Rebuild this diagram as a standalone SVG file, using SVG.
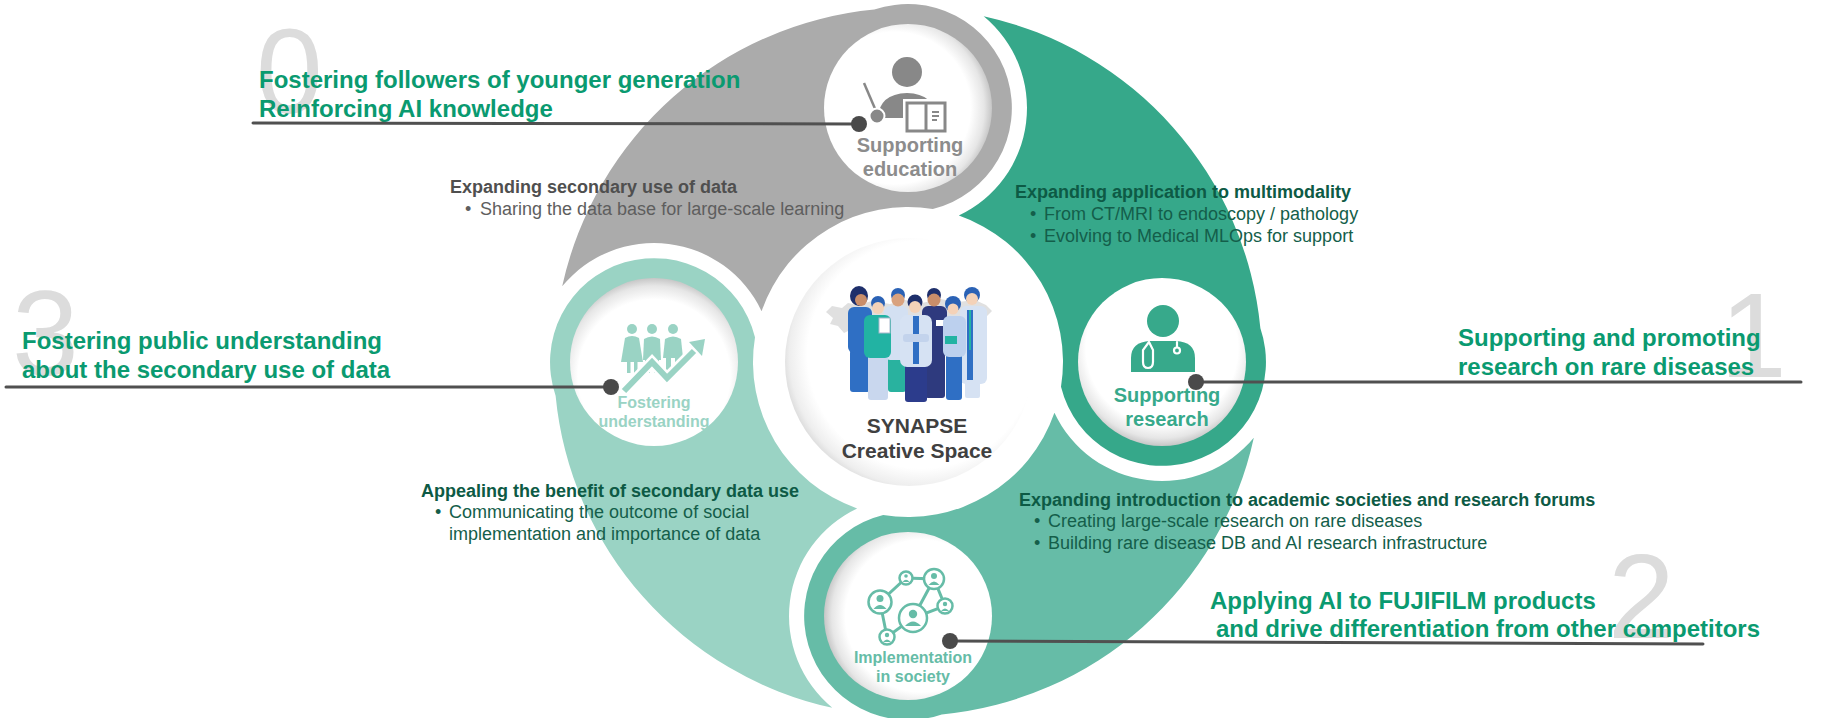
<svg xmlns="http://www.w3.org/2000/svg" width="1822" height="718" viewBox="0 0 1822 718">
  <defs>
    <style>
      text { font-family: "Liberation Sans", Arial, Helvetica, sans-serif; }
      .num { font-size: 120px; fill: #DCDCDC; }
      .head { font-size: 24px; font-weight: bold; fill: #0A9A70; }
      .db { font-size: 18px; font-weight: bold; }
      .dr { font-size: 18px; }
      .gray-b { fill: #4F4F4F; }
      .gray-r { fill: #5E5E5E; }
      .dg-b { fill: #0D5A45; }
      .dg-r { fill: #145E4A; }
      .lbl { font-weight: bold; text-anchor: middle; }
      .conn line { stroke: #505050; stroke-width: 3; stroke-linecap: round; }
      .conn circle { fill: #4A4A4A; }
      .disc { stroke: none; }
    </style>
    <!-- disc shading: each disc darkens toward one rim -->
    <radialGradient id="shadeRight" cx="0.42" cy="0.5" r="0.58">
      <stop offset="0.78" stop-color="#FFFFFF"/>
      <stop offset="0.92" stop-color="#E6E6E6"/>
      <stop offset="1" stop-color="#C6C6C6"/>
    </radialGradient>
    <radialGradient id="shadeBottom" cx="0.5" cy="0.42" r="0.58">
      <stop offset="0.78" stop-color="#FFFFFF"/>
      <stop offset="0.92" stop-color="#E6E6E6"/>
      <stop offset="1" stop-color="#C6C6C6"/>
    </radialGradient>
    <radialGradient id="shadeLeft" cx="0.58" cy="0.5" r="0.58">
      <stop offset="0.78" stop-color="#FFFFFF"/>
      <stop offset="0.92" stop-color="#E6E6E6"/>
      <stop offset="1" stop-color="#C6C6C6"/>
    </radialGradient>
    <radialGradient id="shadeTop" cx="0.5" cy="0.58" r="0.58">
      <stop offset="0.78" stop-color="#FFFFFF"/>
      <stop offset="0.92" stop-color="#E6E6E6"/>
      <stop offset="1" stop-color="#C6C6C6"/>
    </radialGradient>
    <radialGradient id="shadeCenter" cx="0.55" cy="0.47" r="0.56">
      <stop offset="0.82" stop-color="#FFFFFF"/>
      <stop offset="0.95" stop-color="#EEEEEE"/>
      <stop offset="1" stop-color="#DDDDDD"/>
    </radialGradient>
  </defs>

  <rect width="1822" height="718" fill="#FFFFFF"/>

  <!-- large step numbers behind the headings -->
  <g id="step-numbers">
    <text class="num" x="256" y="113">0</text>
    <text class="num" x="1720" y="377">1</text>
    <text class="num" x="1608" y="638">2</text>
    <text class="num" x="12" y="375">3</text>
  </g>

  <!-- Supporting education (gray petal, top) -->
  <g id="node-education">
    <path fill="#ABABAB" d="M 562.19 286.30 A 354 354 0 0 1 874.28 9.61 A 104 104 0 1 1 932.82 209.00 A 155 155 0 0 0 761.58 311.15 A 119 119 0 0 0 562.19 286.30 Z"/>
    <circle class="disc" cx="908" cy="108" r="84" fill="url(#shadeRight)"/>
    <g fill="#888888">
      <circle cx="907" cy="72" r="15"/>
      <path d="M 878 118 Q 879 94 907 93 Q 935 94 936 118 Z"/>
      <line x1="864" y1="83" x2="876" y2="111" stroke="#888888" stroke-width="2.5"/>
      <circle cx="877" cy="116" r="7.5" stroke="#FFFFFF" stroke-width="2"/>
      <rect x="903" y="99" width="46" height="36" fill="#FFFFFF"/>
      <rect x="907" y="103" width="38" height="28" fill="#FFFFFF" stroke="#888888" stroke-width="3"/>
      <line x1="926" y1="104" x2="926" y2="131" stroke="#888888" stroke-width="3"/>
      <path d="M 932 112 H 939 M 932 116 H 939 M 932 120 H 937" stroke="#888888" stroke-width="1.8"/>
    </g>
    <text class="lbl" x="910" y="152" font-size="20" fill="#8C8C8C">Supporting</text>
    <text class="lbl" x="910" y="176" font-size="20" fill="#8C8C8C">education</text>
  </g>

  <!-- Supporting research (green petal, right) -->
  <g id="node-research">
    <path fill="#36A88A" d="M 983.70 16.19 A 354 354 0 0 1 1260.39 328.28 A 104 104 0 1 1 1061.00 386.82 A 155 155 0 0 0 958.85 215.58 A 119 119 0 0 0 983.70 16.19 Z"/>
    <circle class="disc" cx="1162" cy="362" r="84" fill="url(#shadeBottom)"/>
    <g fill="#37A98B">
      <circle cx="1163" cy="321" r="16"/>
      <path d="M 1131 372 L 1131 358 Q 1131 342 1150 341 L 1176 341 Q 1195 342 1195 358 L 1195 372 Z"/>
    </g>
    <g fill="none" stroke="#FFFFFF" stroke-width="2.2" stroke-linecap="round">
      <path d="M 1149 342 L 1143 350 L 1143 362 Q 1143 368 1148 368 Q 1153 368 1153 362 L 1153 350 L 1149 342"/>
      <line x1="1177" y1="342" x2="1177" y2="347"/>
      <circle cx="1177" cy="350.5" r="3"/>
    </g>
    <text class="lbl" x="1167" y="402" font-size="20" fill="#37A98B">Supporting</text>
    <text class="lbl" x="1167" y="426" font-size="20" fill="#37A98B">research</text>
  </g>

  <!-- Implementation in society (teal petal, bottom) -->
  <g id="node-implementation">
    <path fill="#66BCA7" d="M 1253.81 437.70 A 354 354 0 0 1 941.72 714.39 A 104 104 0 1 1 883.18 515.00 A 155 155 0 0 0 1054.42 412.85 A 119 119 0 0 0 1253.81 437.70 Z"/>
    <circle class="disc" cx="908" cy="616" r="84" fill="url(#shadeLeft)"/>
    <g stroke="#66BCA7" stroke-width="3" fill="none">
      <path d="M 906 578 L 934 579 L 945 606 L 913 618 L 887 637 L 880 602 Z M 934 579 L 913 618"/>
    </g>
    <g stroke="#66BCA7" stroke-width="2.5" fill="#FFFFFF">
      <circle cx="906" cy="578" r="6.5"/>
      <circle cx="934" cy="579" r="10"/>
      <circle cx="880" cy="602" r="11.5"/>
      <circle cx="945" cy="606" r="7.5"/>
      <circle cx="913" cy="618" r="14"/>
      <circle cx="887" cy="637" r="7.5"/>
    </g>
    <g fill="#66BCA7">
      <circle cx="906" cy="576" r="1.8"/><path d="M 902.5 582 Q 906 577.5 909.5 582 Z"/>
      <circle cx="934" cy="576" r="3"/><path d="M 928.5 585 Q 934 578 939.5 585 Z"/>
      <circle cx="880" cy="598.5" r="3.5"/><path d="M 873.5 609 Q 880 601 886.5 609 Z"/>
      <circle cx="945" cy="604" r="2.2"/><path d="M 941 611 Q 945 606 949 611 Z"/>
      <circle cx="913" cy="614" r="4.2"/><path d="M 905 626 Q 913 617 921 626 Z"/>
      <circle cx="887" cy="635" r="2.2"/><path d="M 883 642 Q 887 637 891 642 Z"/>
    </g>
    <text class="lbl" x="913" y="663" font-size="16" fill="#66BCA7">Implementation</text>
    <text class="lbl" x="913" y="682" font-size="16" fill="#66BCA7">in society</text>
  </g>

  <!-- Fostering understanding (light teal petal, left) -->
  <g id="node-fostering">
    <path fill="#9AD3C4" d="M 832.30 707.81 A 354 354 0 0 1 555.61 395.72 A 104 104 0 1 1 755.00 337.18 A 155 155 0 0 0 857.15 508.42 A 119 119 0 0 0 832.30 707.81 Z"/>
    <circle class="disc" cx="654" cy="362" r="84" fill="url(#shadeTop)"/>
    <g fill="#9AD3C4">
      <circle cx="632" cy="329" r="5"/>
      <circle cx="652" cy="329" r="5"/>
      <circle cx="673" cy="329" r="5"/>
      <path d="M 625 338 Q 632 334 639 338 L 643 362 L 621 362 Z"/>
      <rect x="627" y="361" width="3.5" height="12"/>
      <rect x="634" y="361" width="3.5" height="12"/>
      <path d="M 644 339 Q 652 334 660 339 L 661 360 L 643 360 Z"/>
      <rect x="645" y="359" width="5" height="14"/>
      <rect x="654" y="359" width="5" height="14"/>
      <path d="M 665 339 Q 673 334 681 339 L 683 358 L 663 358 Z"/>
      <rect x="666" y="357" width="5" height="14"/>
      <rect x="675" y="357" width="5" height="14"/>
    </g>
    <polyline points="624,391 652,362 667,378 694,351" fill="none" stroke="#FFFFFF" stroke-width="11" stroke-linejoin="miter"/>
    <polyline points="624,391 652,362 667,378 694,351" fill="none" stroke="#9AD3C4" stroke-width="6" stroke-linejoin="miter"/>
    <polygon points="705,339 689,342 702,356" fill="#9AD3C4"/>
    <text class="lbl" x="654" y="408" font-size="16" fill="#9AD3C4">Fostering</text>
    <text class="lbl" x="654" y="427" font-size="16" fill="#9AD3C4">understanding</text>
  </g>

  <!-- SYNAPSE Creative Space (center) -->
  <g id="node-center">
    <circle class="disc" cx="909" cy="362" r="124" fill="url(#shadeCenter)"/>
    <g id="care-team">
      <!-- world map silhouette behind the team -->
      <path fill="#E0E0E0" d="M 826 312 L 832 306 L 842 308 L 848 303 L 858 305 L 872 301 L 890 304 L 905 300 L 922 303 L 940 299 L 958 302 L 975 300 L 986 305 L 992 311 L 987 316 L 980 314 L 976 322 L 968 326 L 962 333 L 954 330 L 944 335 L 932 331 L 918 336 L 904 332 L 890 337 L 876 333 L 862 336 L 850 330 L 844 333 L 838 326 L 830 324 L 833 318 Z"/>
      <!-- back row -->
      <rect x="850" y="350" width="20" height="42" rx="3" fill="#2F6FC4"/>
      <rect x="848" y="307" width="24" height="46" rx="6" fill="#2F6FC4"/>
      <ellipse cx="859" cy="296" rx="9" ry="10" fill="#1E2F6B"/>
      <circle cx="861" cy="300" r="6" fill="#C98E6A"/>
      <rect x="888" y="356" width="18" height="36" rx="3" fill="#29B29F"/>
      <rect x="884" y="306" width="24" height="54" rx="6" fill="#D3E0F2"/>
      <circle cx="898" cy="295" r="7" fill="#2B62B5"/>
      <circle cx="898" cy="300" r="6.5" fill="#D9A27E"/>
      <rect x="925" y="352" width="20" height="46" rx="3" fill="#2E3A7E"/>
      <rect x="922" y="306" width="25" height="50" rx="6" fill="#2E3A7E"/>
      <circle cx="934" cy="295" r="7" fill="#1E2F6B"/>
      <circle cx="934" cy="300" r="6.5" fill="#C98E6A"/>
      <rect x="936" y="320" width="8" height="6" fill="#FFFFFF"/>
      <rect x="965" y="380" width="15" height="18" rx="2" fill="#D6E2F3"/>
      <rect x="960" y="306" width="27" height="78" rx="6" fill="#D6E2F3"/>
      <rect x="967" y="310" width="6" height="70" fill="#2F6FC4"/>
      <rect x="969" y="310" width="2" height="40" fill="#22B3A3"/>
      <circle cx="972" cy="295" r="8" fill="#2B62B5"/>
      <circle cx="972" cy="299" r="6" fill="#F4D2B8"/>
      <!-- front row -->
      <rect x="868" y="355" width="20" height="45" rx="3" fill="#C9D7EE"/>
      <rect x="864" y="315" width="27" height="43" rx="6" fill="#22B3A3"/>
      <rect x="879" y="318" width="11" height="15" fill="#FFFFFF" stroke="#A8B8CC" stroke-width="1"/>
      <circle cx="878" cy="303" r="7" fill="#2B62B5"/>
      <circle cx="878" cy="308" r="6" fill="#F4D2B8"/>
      <rect x="905" y="364" width="22" height="38" rx="3" fill="#2C3C8C"/>
      <rect x="900" y="315" width="32" height="52" rx="7" fill="#D6E2F3"/>
      <rect x="913" y="316" width="6" height="48" fill="#2F6FC4"/>
      <rect x="903" y="334" width="26" height="8" rx="3" fill="#C3D3EC"/>
      <circle cx="915" cy="302" r="7.5" fill="#1E2F6B"/>
      <circle cx="915" cy="307" r="6" fill="#F4D2B8"/>
      <rect x="946" y="354" width="16" height="46" rx="3" fill="#2F6FC4"/>
      <rect x="943" y="316" width="23" height="41" rx="6" fill="#BCD0EE"/>
      <rect x="945" y="336" width="12" height="8" fill="#22B3A3"/>
      <circle cx="953" cy="304" r="8" fill="#2B62B5"/>
      <circle cx="953" cy="309" r="5.5" fill="#F4D2B8"/>
    </g>
    <text class="lbl" x="917" y="433" font-size="21" fill="#404040">SYNAPSE</text>
    <text class="lbl" x="917" y="458" font-size="21" fill="#404040">Creative Space</text>
  </g>

  <!-- descriptions inside the petals -->
  <g id="descriptions">
    <text class="db gray-b" x="450" y="193">Expanding secondary use of data</text>
    <text class="dr gray-r" x="465" y="215">•</text>
    <text class="dr gray-r" x="480" y="215">Sharing the data base for large-scale learning</text>

    <text class="db dg-b" x="1015" y="198">Expanding application to multimodality</text>
    <text class="dr dg-r" x="1030" y="220">•</text>
    <text class="dr dg-r" x="1044" y="220">From CT/MRI to endoscopy / pathology</text>
    <text class="dr dg-r" x="1030" y="242">•</text>
    <text class="dr dg-r" x="1044" y="242">Evolving to Medical MLOps for support</text>

    <text class="db dg-b" x="1019" y="506">Expanding introduction to academic societies and research forums</text>
    <text class="dr dg-r" x="1034" y="527">•</text>
    <text class="dr dg-r" x="1048" y="527">Creating large-scale research on rare diseases</text>
    <text class="dr dg-r" x="1034" y="549">•</text>
    <text class="dr dg-r" x="1048" y="549">Building rare disease DB and AI research infrastructure</text>

    <text class="db dg-b" x="421" y="497">Appealing the benefit of secondary data use</text>
    <text class="dr dg-r" x="435" y="518">•</text>
    <text class="dr dg-r" x="449" y="518">Communicating the outcome of social</text>
    <text class="dr dg-r" x="449" y="540">implementation and importance of data</text>
  </g>

  <!-- goal headings -->
  <g id="headings">
    <text class="head" x="259" y="88">Fostering followers of younger generation</text>
    <text class="head" x="259" y="117">Reinforcing AI knowledge</text>
    <text class="head" x="1458" y="346">Supporting and promoting</text>
    <text class="head" x="1458" y="375">research on rare diseases</text>
    <text class="head" x="1210" y="609">Applying AI to FUJIFILM products</text>
    <text class="head" x="1216" y="637">and drive differentiation from other competitors</text>
    <text class="head" x="22" y="349">Fostering public understanding</text>
    <text class="head" x="22" y="378">about the secondary use of data</text>
  </g>

  <!-- leader lines from headings to nodes -->
  <g id="connectors" class="conn">
    <line x1="253" y1="123" x2="859" y2="124"/>
    <circle cx="859" cy="124" r="8"/>
    <line x1="1196" y1="382" x2="1801" y2="382"/>
    <circle cx="1196" cy="382" r="8"/>
    <line x1="950" y1="641" x2="1703" y2="644"/>
    <circle cx="950" cy="641" r="8"/>
    <line x1="6" y1="387" x2="611" y2="387"/>
    <circle cx="611" cy="387" r="8"/>
  </g>
</svg>
